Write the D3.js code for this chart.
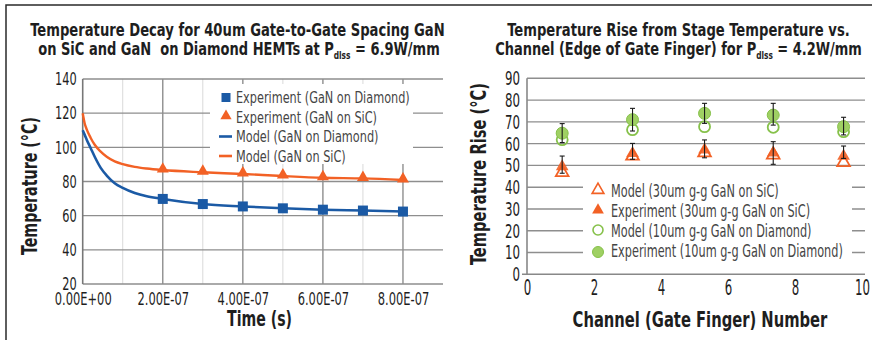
<!DOCTYPE html>
<html>
<head>
<meta charset="utf-8">
<script src="https://cdn.jsdelivr.net/npm/d3@7"></script>
<style>
  body { margin: 0; background: #fff; }
  svg { display: block; }
  text { font-family: 'Liberation Sans Narrow', 'DejaVu Sans Condensed', sans-serif; fill: #1e1e1e; }
  .title { font-weight: bold; font-size: 17.5px; white-space: pre; }
  .axis-title { font-weight: bold; font-size: 22px; }
  .legend text { fill: #454545; }
</style>
</head>
<body>
<svg id="chart" width="872" height="340"></svg>
<script>
'use strict';

// ---- left panel: temperature decay ----
const timeTicks = [0, 2e-7, 4e-7, 6e-7, 8e-7];
const timeTickLabels = ['0.00E+00', '2.00E-07', '4.00E-07', '6.00E-07', '8.00E-07'];
const timeMinorTicks = [1e-7, 3e-7, 5e-7, 7e-7];
const tempTicks = [20, 40, 60, 80, 100, 120, 140];

const expTime = [2e-7, 3e-7, 4e-7, 5e-7, 6e-7, 7e-7, 8e-7];
const expDiamond = [69.8, 66.8, 65.4, 64.3, 63.5, 63.0, 62.4];
const expSiC = [86.7, 85.4, 84.4, 83.2, 82.2, 81.8, 80.9];

const modelTime = [0, 0.05e-7, 0.1e-7, 0.2e-7, 0.3e-7, 0.45e-7, 0.6e-7, 0.8e-7, 1e-7, 1.3e-7, 1.6e-7,
  2e-7, 3e-7, 4e-7, 5e-7, 6e-7, 7e-7, 8e-7];
const modelDiamond = [110, 107.3, 104.5, 99.5, 94.5, 88, 83.5, 79, 76.3, 73.3, 71.4,
  69.8, 66.8, 65.4, 64.3, 63.5, 63.0, 62.4];
const modelSiC = [120, 114, 110.5, 105.5, 101.5, 97.5, 94.5, 91.8, 90.2, 88.6, 87.6,
  86.7, 85.4, 84.4, 83.2, 82.2, 81.8, 80.9];

const legendLeft = ['Experiment (GaN on Diamond)', 'Experiment (GaN on SiC)', 'Model (GaN on Diamond)', 'Model (GaN on SiC)'];

// ---- right panel: temperature rise per channel ----
const channelTicks = [0, 2, 4, 6, 8, 10];
const riseTicks = [0, 10, 20, 30, 40, 50, 60, 70, 80, 90];
const channelX = [1.05, 3.15, 5.3, 7.35, 9.45];
const modelSiC30 = [46.8, 54.3, 55.8, 54.8, 51.4];
const expSiC30 = [49.5, 55.5, 57.1, 55.8, 54.3];
const expSiC30Hi = [54.3, 60.1, 61.7, 60.9, 58.9];
const expSiC30Lo = [46.4, 52.8, 53.5, 50.5, 53.2];
const modelDia10 = [61.8, 66.4, 67.8, 67.5, 65.5];
const expDia10 = [64.8, 71.0, 73.9, 73.1, 67.8];
const expDia10Hi = [69.2, 76.2, 78.5, 78.5, 72.1];
const expDia10Lo = [60.5, 65.8, 69.3, 68.5, 64.0];

const legendRight = ['Model (30um g-g GaN on SiC)', 'Experiment (30um g-g GaN on SiC)',
  'Model (10um g-g GaN on Diamond)', 'Experiment (10um g-g GaN on Diamond)'];

const BLUE = '#1b5aa5';
const ORANGE = '#f26125';
const GREEN = '#86c14a';
const GREEN_FILL = '#9fd063';
const GRID = '#8e8e8e';
const MINOR = '#d9d9d9';

const svg = d3.select('#chart');

// squeeze text horizontally about its anchor x
const squeeze = (sel, k) => sel.each(function() {
  const t = d3.select(this);
  const x = +t.attr('x') || 0;
  t.attr('transform', `translate(${x},0) scale(${k},1) translate(${-x},0)`);
});
const fitWidth = (sel, w) => sel.each(function() {
  squeeze(d3.select(this), w / this.getComputedTextLength());
});
// same factor for a set of labels, the longest one gets width w
const fitGroup = (sel, w) => {
  const longest = d3.max(sel.nodes(), (n) => n.getComputedTextLength());
  squeeze(sel, w / longest);
};

// outer frame
svg.append('path')
  .attr('d', 'M6,340V5H872')
  .attr('fill', 'none')
  .attr('stroke', '#2a2a2a')
  .attr('stroke-width', 1.5);

// ================= LEFT =================
const xL = d3.scaleLinear().domain([0, 9e-7]).range([82.7, 443]);
const yL = d3.scaleLinear().domain([20, 140]).range([284, 79]);
const $left = svg.append('g');

$left.append('g').selectAll('line')
  .data(timeMinorTicks)
  .join('line')
  .attr('x1', (d) => xL(d)).attr('x2', (d) => xL(d))
  .attr('y1', yL(20)).attr('y2', yL(140))
  .attr('stroke', MINOR).attr('stroke-width', 1);

$left.append('g').selectAll('line')
  .data(timeTicks.slice(1))
  .join('line')
  .attr('x1', (d) => xL(d)).attr('x2', (d) => xL(d))
  .attr('y1', yL(20)).attr('y2', yL(140))
  .attr('stroke', GRID).attr('stroke-width', 1.4);

$left.append('g').selectAll('line')
  .data(tempTicks)
  .join('line')
  .attr('x1', xL(0)).attr('x2', xL.range()[1])
  .attr('y1', (d) => yL(d)).attr('y2', (d) => yL(d))
  .attr('stroke', GRID).attr('stroke-width', 1.4);

$left.append('line')
  .attr('x1', xL(0)).attr('x2', xL(0))
  .attr('y1', yL(20)).attr('y2', yL(140))
  .attr('stroke', '#777').attr('stroke-width', 1.6);

const $yAxisL = $left.append('g')
  .attr('transform', `translate(${xL(0)},0)`)
  .call(d3.axisLeft(yL).tickValues(tempTicks).tickSize(0).tickPadding(6));
$yAxisL.select('.domain').remove();
$yAxisL.selectAll('text').attr('font-size', 18).attr('font-family', null).attr('fill', '#1e1e1e')
  .call(fitGroup, 21.7);

const $xAxisL = $left.append('g')
  .attr('transform', `translate(0,${yL(20)})`)
  .call(d3.axisBottom(xL).tickValues(timeTicks).tickFormat((d, i) => timeTickLabels[i]).tickSize(0).tickPadding(9));
$xAxisL.select('.domain').remove();
$xAxisL.selectAll('text').attr('font-size', 17).attr('font-family', null).attr('fill', '#1e1e1e')
  .call(fitGroup, 57);

// legend box (covers grid)
const $legL = $left.append('g').attr('class', 'legend');
$legL.append('rect')
  .attr('x', 210).attr('y', 84).attr('width', 203).attr('height', 80)
  .attr('fill', '#fff');

// model curves
const lineL = (vals) => d3.line()
  .x((d, i) => xL(modelTime[i]))
  .y((d) => yL(d))
  .curve(d3.curveMonotoneX)(vals);

$left.append('path').attr('d', lineL(modelSiC))
  .attr('fill', 'none').attr('stroke', ORANGE).attr('stroke-width', 2.4);
$left.append('path').attr('d', lineL(modelDiamond))
  .attr('fill', 'none').attr('stroke', BLUE).attr('stroke-width', 2.6);

$left.append('g').selectAll('path')
  .data(expSiC)
  .join('path')
  .attr('transform', (d, i) => `translate(${xL(expTime[i])},${yL(d) - 1})`)
  .attr('d', d3.symbol(d3.symbolTriangle, 62))
  .attr('fill', ORANGE);

$left.append('g').selectAll('rect')
  .data(expDiamond)
  .join('rect')
  .attr('x', (d, i) => xL(expTime[i]) - 5)
  .attr('y', (d) => yL(d) - 5)
  .attr('width', 10).attr('height', 10)
  .attr('fill', BLUE);

// legend entries
const legRowsL = [97.5, 117, 136.5, 156];
const $li = $legL.selectAll('g.item')
  .data(legendLeft)
  .join('g')
  .attr('class', 'item')
  .attr('transform', (d, i) => `translate(0,${legRowsL[i]})`);
$li.filter((d, i) => i === 0).append('rect')
  .attr('x', 221.5).attr('y', -4.5).attr('width', 9).attr('height', 9).attr('fill', BLUE);
$li.filter((d, i) => i === 1).append('path')
  .attr('transform', 'translate(226,-1)')
  .attr('d', d3.symbol(d3.symbolTriangle, 55)).attr('fill', ORANGE);
$li.filter((d, i) => i >= 2).append('line')
  .attr('x1', 219).attr('x2', 232).attr('y1', 0).attr('y2', 0)
  .attr('stroke', (d, i) => i === 0 ? BLUE : ORANGE).attr('stroke-width', 2.6);
$li.append('text')
  .attr('x', 236).attr('y', 5.8)
  .attr('font-size', 16.5)
  .text((d) => d);
fitGroup($li.selectAll('text'), 174);

// titles
const $tL = svg.append('text').attr('class', 'title').attr('x', 237.5).attr('y', 36)
  .attr('text-anchor', 'middle').text('Temperature Decay for 40um Gate-to-Gate Spacing GaN');
fitWidth($tL, 415);
const $tL2 = svg.append('text').attr('class', 'title').attr('x', 239).attr('y', 55)
  .attr('text-anchor', 'middle');
$tL2.append('tspan').text('on SiC and GaN  on Diamond HEMTs at P');
$tL2.append('tspan').attr('font-size', 10).attr('dy', 4).text('dlss');
$tL2.append('tspan').attr('dy', -4).text(' = 6.9W/mm');
fitWidth($tL2, 402);

const $xtL = svg.append('text').attr('class', 'axis-title')
  .attr('x', 259.5).attr('y', 326.5).attr('text-anchor', 'middle').text('Time (s)');
fitWidth($xtL, 65);
const $ytL = svg.append('g').attr('transform', 'translate(36.7,186) rotate(-90)')
  .append('text').attr('class', 'axis-title').attr('x', 0).attr('y', 0)
  .attr('text-anchor', 'middle').text('Temperature (°C)');
fitWidth($ytL, 138);

// ================= RIGHT =================
const xR = d3.scaleLinear().domain([0, 10]).range([527, 862]);
const yR = d3.scaleLinear().domain([0, 90]).range([274.3, 78.3]);
const $right = svg.append('g');

$right.append('g').selectAll('line')
  .data(riseTicks.slice(1))
  .join('line')
  .attr('x1', xR(0)).attr('x2', 865)
  .attr('y1', (d) => yR(d)).attr('y2', (d) => yR(d))
  .attr('stroke', GRID).attr('stroke-width', 1.4);
$right.append('line')
  .attr('x1', xR(0) - 5).attr('x2', 865)
  .attr('y1', yR(0)).attr('y2', yR(0))
  .attr('stroke', '#888').attr('stroke-width', 1.6);
$right.append('line')
  .attr('x1', xR(0)).attr('x2', xR(0))
  .attr('y1', yR(0)).attr('y2', yR(90))
  .attr('stroke', '#888').attr('stroke-width', 1.6);

const $yAxisR = $right.append('g')
  .attr('transform', `translate(${xR(0)},0)`)
  .call(d3.axisLeft(yR).tickValues(riseTicks).tickSize(0).tickPadding(7));
$yAxisR.select('.domain').remove();
$yAxisR.selectAll('text').attr('font-size', 20).attr('font-family', null).attr('fill', '#1e1e1e')
  .call(fitGroup, 15);

const $xAxisR = $right.append('g')
  .attr('transform', `translate(0,${yR(0)})`)
  .call(d3.axisBottom(xR).tickValues(channelTicks).tickSize(0).tickPadding(6));
$xAxisR.select('.domain').remove();
$xAxisR.selectAll('text').attr('font-size', 20.5).attr('font-family', null).attr('fill', '#1e1e1e')
  .call(fitGroup, 15);

// legend box
const $legR = $right.append('g').attr('class', 'legend');
$legR.append('rect')
  .attr('x', 583).attr('y', 176).attr('width', 269).attr('height', 88)
  .attr('fill', '#fff');

const tri = d3.symbol(d3.symbolTriangle, 70);

// markers
$right.append('g').selectAll('path')
  .data(modelSiC30)
  .join('path')
  .attr('transform', (d, i) => `translate(${xR(channelX[i])},${yR(d)})`)
  .attr('d', tri).attr('fill', 'none').attr('stroke', ORANGE).attr('stroke-width', 1.8);
$right.append('g').selectAll('path')
  .data(expSiC30)
  .join('path')
  .attr('transform', (d, i) => `translate(${xR(channelX[i])},${yR(d)})`)
  .attr('d', tri).attr('fill', ORANGE).attr('fill-opacity', 0.9);
$right.append('g').selectAll('circle')
  .data(modelDia10)
  .join('circle')
  .attr('cx', (d, i) => xR(channelX[i])).attr('cy', (d) => yR(d)).attr('r', 5.5)
  .attr('fill', 'none').attr('stroke', GREEN).attr('stroke-width', 1.8);
$right.append('g').selectAll('circle')
  .data(expDia10)
  .join('circle')
  .attr('cx', (d, i) => xR(channelX[i])).attr('cy', (d) => yR(d)).attr('r', 6)
  .attr('fill', GREEN_FILL).attr('stroke', GREEN).attr('stroke-width', 1);

// error bars
const errBars = (hi, lo) => {
  const $e = $right.append('g').attr('stroke', '#1a1a1a').attr('stroke-width', 1.1);
  $e.selectAll('line.v').data(hi).join('line').attr('class', 'v')
    .attr('x1', (d, i) => xR(channelX[i])).attr('x2', (d, i) => xR(channelX[i]))
    .attr('y1', (d) => yR(d)).attr('y2', (d, i) => yR(lo[i]));
  $e.selectAll('line.t').data(hi).join('line').attr('class', 't')
    .attr('x1', (d, i) => xR(channelX[i]) - 2.5).attr('x2', (d, i) => xR(channelX[i]) + 2.5)
    .attr('y1', (d) => yR(d)).attr('y2', (d) => yR(d));
  $e.selectAll('line.b').data(lo).join('line').attr('class', 'b')
    .attr('x1', (d, i) => xR(channelX[i]) - 2.5).attr('x2', (d, i) => xR(channelX[i]) + 2.5)
    .attr('y1', (d) => yR(d)).attr('y2', (d) => yR(d));
};
errBars(expSiC30Hi, expSiC30Lo);
errBars(expDia10Hi, expDia10Lo);

// legend entries
const legRowsR = [190, 210, 230, 250];
const $ri = $legR.selectAll('g.item')
  .data(legendRight)
  .join('g')
  .attr('class', 'item')
  .attr('transform', (d, i) => `translate(598,${legRowsR[i]})`);
$ri.filter((d, i) => i === 0).append('path')
  .attr('d', d3.symbol(d3.symbolTriangle, 60)).attr('fill', 'none').attr('stroke', ORANGE).attr('stroke-width', 1.6);
$ri.filter((d, i) => i === 1).append('path')
  .attr('d', d3.symbol(d3.symbolTriangle, 60)).attr('fill', ORANGE);
$ri.filter((d, i) => i === 2).append('circle')
  .attr('r', 5).attr('fill', 'none').attr('stroke', GREEN).attr('stroke-width', 1.6);
$ri.filter((d, i) => i === 3).append('circle')
  .attr('cy', 2).attr('r', 5.5).attr('fill', GREEN_FILL).attr('stroke', GREEN).attr('stroke-width', 1);
$ri.append('text')
  .attr('x', 13).attr('y', 6.5)
  .attr('font-size', 18)
  .text((d) => d);
fitGroup($ri.selectAll('text'), 232);

// titles
const $tR = svg.append('text').attr('class', 'title').attr('x', 678.5).attr('y', 36)
  .attr('text-anchor', 'middle').text('Temperature Rise from Stage Temperature vs.');
fitWidth($tR, 343);
const $tR2 = svg.append('text').attr('class', 'title').attr('x', 678.5).attr('y', 55)
  .attr('text-anchor', 'middle');
$tR2.append('tspan').text('Channel (Edge of Gate Finger) for P');
$tR2.append('tspan').attr('font-size', 10).attr('dy', 4).text('dlss');
$tR2.append('tspan').attr('dy', -4).text(' = 4.2W/mm');
fitWidth($tR2, 367);

const $xtR = svg.append('text').attr('class', 'axis-title')
  .attr('x', 700).attr('y', 327.5).attr('text-anchor', 'middle').text('Channel (Gate Finger) Number');
fitWidth($xtR, 255);
const $ytR = svg.append('g').attr('transform', 'translate(486,174) rotate(-90)')
  .append('text').attr('class', 'axis-title').attr('x', 0).attr('y', 0)
  .attr('text-anchor', 'middle').text('Temperature Rise (°C)');
fitWidth($ytR, 182);
</script>
</body>
</html>
